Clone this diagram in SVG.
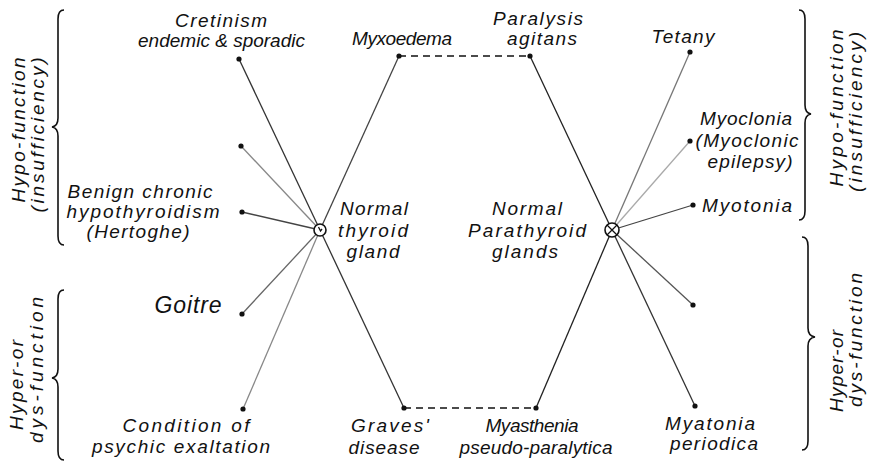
<svg xmlns="http://www.w3.org/2000/svg" width="873" height="462" viewBox="0 0 873 462">
<style>
text{font-family:"Liberation Sans","DejaVu Sans",sans-serif;font-style:italic;font-size:19px;fill:#111;text-anchor:middle}
.big{font-size:23px}
.ln{fill:none;stroke-width:1.3}
.dash{fill:none;stroke:#111;stroke-width:1.6;stroke-dasharray:7 5}
.dot{fill:#111}
.brace{fill:none;stroke:#111;stroke-width:1.6}
.gl{fill:#fff;stroke:#111;stroke-width:1.6}
</style>
<rect width="873" height="462" fill="#fff"/>

<g id="connectors">
  <line class="ln" x1="320" y1="230" x2="239" y2="59" stroke="#333"/>
  <line class="ln" x1="320" y1="230" x2="241" y2="146" stroke="#888"/>
  <line class="ln" x1="320" y1="230" x2="242" y2="212" stroke="#444"/>
  <line class="ln" x1="320" y1="230" x2="242" y2="314" stroke="#666"/>
  <line class="ln" x1="320" y1="230" x2="243" y2="409" stroke="#888"/>
  <line class="ln" x1="320" y1="230" x2="399" y2="56" stroke="#444"/>
  <line class="ln" x1="320" y1="230" x2="404" y2="408" stroke="#333"/>
  <line class="ln" x1="612" y1="230" x2="530" y2="56" stroke="#222"/>
  <line class="ln" x1="612" y1="230" x2="536" y2="408" stroke="#222"/>
  <line class="ln" x1="612" y1="230" x2="690" y2="52" stroke="#777"/>
  <line class="ln" x1="612" y1="230" x2="690" y2="141" stroke="#aaa"/>
  <line class="ln" x1="612" y1="230" x2="693" y2="205" stroke="#444"/>
  <line class="ln" x1="612" y1="230" x2="693" y2="305" stroke="#555"/>
  <line class="ln" x1="612" y1="230" x2="695" y2="406" stroke="#333"/>
  <line class="dash" x1="399" y1="56" x2="530" y2="56"/>
  <line class="dash" x1="404" y1="408" x2="536" y2="408"/>
</g>

<g id="thyroid">
  <circle class="gl" cx="320" cy="230" r="6"/>
  <path d="M318.5,227 L320.5,231 L322,229" fill="none" stroke="#111" stroke-width="1.3"/>
  <text x="374" y="215" textLength="68" lengthAdjust="spacing">Normal</text>
  <text x="373" y="237" textLength="70" lengthAdjust="spacing">thyroid</text>
  <text x="373" y="258" textLength="53" lengthAdjust="spacing">gland</text>
</g>
<g id="parathyroid">
  <circle class="gl" cx="612" cy="230" r="7"/>
  <path d="M607,225 L617,235 M617,225 L607,235" stroke="#111" stroke-width="1.3"/>
  <text x="527" y="215" textLength="70" lengthAdjust="spacing">Normal</text>
  <text x="527" y="237" textLength="118" lengthAdjust="spacing">Parathyroid</text>
  <text x="525" y="258" textLength="66" lengthAdjust="spacing">glands</text>
</g>

<g id="cretinism">
  <circle class="dot" cx="239" cy="59" r="2.6"/>
  <text x="221" y="27" textLength="92" lengthAdjust="spacing">Cretinism</text>
  <text x="221.5" y="47" textLength="167" lengthAdjust="spacing">endemic &amp; sporadic</text>
</g>
<g id="unlabeled-left">
  <circle class="dot" cx="241" cy="146" r="2.6"/>
</g>
<g id="hertoghe">
  <circle class="dot" cx="242" cy="212" r="2.6"/>
  <text x="140" y="198" textLength="145" lengthAdjust="spacing">Benign chronic</text>
  <text x="143" y="218" textLength="153" lengthAdjust="spacing">hypothyroidism</text>
  <text x="138" y="238" textLength="103" lengthAdjust="spacing">(Hertoghe)</text>
</g>
<g id="goitre">
  <circle class="dot" cx="242" cy="314" r="2.6"/>
  <text class="big" x="188" y="313" textLength="67" lengthAdjust="spacing">Goitre</text>
</g>
<g id="psychic">
  <circle class="dot" cx="243" cy="409" r="2.6"/>
  <text x="186" y="432" textLength="127" lengthAdjust="spacing">Condition of</text>
  <text x="181" y="453" textLength="178" lengthAdjust="spacing">psychic exaltation</text>
</g>
<g id="myxoedema">
  <circle class="dot" cx="399" cy="56" r="2.6"/>
  <text x="402" y="45" textLength="100" lengthAdjust="spacing">Myxoedema</text>
</g>
<g id="graves">
  <circle class="dot" cx="404" cy="408" r="2.6"/>
  <text x="390" y="432" textLength="78" lengthAdjust="spacing">Graves'</text>
  <text x="384" y="454" textLength="71" lengthAdjust="spacing">disease</text>
</g>
<g id="paralysis">
  <circle class="dot" cx="530" cy="56" r="2.6"/>
  <text x="538" y="25" textLength="90" lengthAdjust="spacing">Paralysis</text>
  <text x="542" y="45" textLength="70" lengthAdjust="spacing">agitans</text>
</g>
<g id="myasthenia">
  <circle class="dot" cx="536" cy="408" r="2.6"/>
  <text x="532" y="432" textLength="93" lengthAdjust="spacing">Myasthenia</text>
  <text x="536" y="454" textLength="153" lengthAdjust="spacing">pseudo-paralytica</text>
</g>
<g id="tetany">
  <circle class="dot" cx="690" cy="52" r="2.6"/>
  <text x="683" y="43" textLength="63" lengthAdjust="spacing">Tetany</text>
</g>
<g id="myoclonia">
  <circle class="dot" cx="690" cy="141" r="2.6"/>
  <text x="746" y="125" textLength="92" lengthAdjust="spacing">Myoclonia</text>
  <text x="747" y="147" textLength="103" lengthAdjust="spacing">(Myoclonic</text>
  <text x="750" y="168" textLength="85" lengthAdjust="spacing">epilepsy)</text>
</g>
<g id="myotonia">
  <circle class="dot" cx="693" cy="205" r="2.6"/>
  <text x="747" y="212" textLength="90" lengthAdjust="spacing">Myotonia</text>
</g>
<g id="unlabeled-right">
  <circle class="dot" cx="693" cy="305" r="2.6"/>
</g>
<g id="myatonia">
  <circle class="dot" cx="695" cy="406" r="2.6"/>
  <text x="710" y="430" textLength="90" lengthAdjust="spacing">Myatonia</text>
  <text x="714" y="450" textLength="88" lengthAdjust="spacing">periodica</text>
</g>

<g id="left-hypo">
  <path class="brace" d="M64,10 Q58,10 58,19 L58,118 Q58,126 52,127 Q58,128 58,136 L58,236 Q58,245 64,245"/>
  <text transform="translate(25,130) rotate(-90)" textLength="145" lengthAdjust="spacing">Hypo-function</text>
  <text transform="translate(44,135) rotate(-90)" textLength="155" lengthAdjust="spacing">(insufficiency)</text>
</g>
<g id="left-hyper">
  <path class="brace" d="M64,290 Q58,290 58,299 L58,369 Q58,377 52,378 Q58,379 58,387 L58,451 Q58,460 64,460"/>
  <text transform="translate(23,385) rotate(-90)" textLength="90" lengthAdjust="spacing">Hyper-or</text>
  <text transform="translate(43,370) rotate(-90)" textLength="146" lengthAdjust="spacing">dys-function</text>
</g>
<g id="right-hypo">
  <path class="brace" d="M799,10 Q805,10 805,19 L805,105 Q805,113 811,114 Q805,115 805,123 L805,211 Q805,220 799,220"/>
  <text transform="translate(843,108) rotate(-90)" textLength="157" lengthAdjust="spacing">Hypo-function</text>
  <text transform="translate(862,112) rotate(-90)" textLength="160" lengthAdjust="spacing">(insufficiency)</text>
</g>
<g id="right-hyper">
  <path class="brace" d="M802,237 Q808,237 808,246 L808,328 Q808,336 815,337 Q808,338 808,346 L808,441 Q808,450 802,450"/>
  <text transform="translate(843,371) rotate(-90)" textLength="82" lengthAdjust="spacing">Hyper-or</text>
  <text transform="translate(862,340) rotate(-90)" textLength="134" lengthAdjust="spacing">dys-function</text>
</g>
</svg>
